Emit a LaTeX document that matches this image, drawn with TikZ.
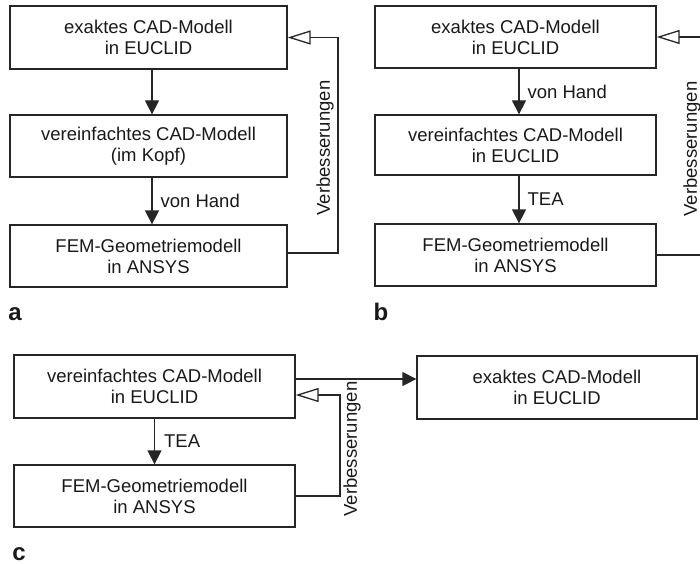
\documentclass[tikz,border=0pt]{standalone}
\usepackage{fontspec}
\setmainfont{Liberation Sans}
\usetikzlibrary{arrows.meta,calc}
\begin{document}
\begin{tikzpicture}[x=1pt,y=-1pt,
  ink/.style={black!85},
  box/.style={draw=black!85, line width=1.3pt, align=center, inner sep=0pt,
    font=\fontsize{18.5}{21}\selectfont, text=black!90},
  flow/.style={ink, line width=1.3pt, -{Triangle[length=14pt,width=14pt]}},
  back/.style={ink, line width=1.3pt, -{Triangle[open,length=23pt,width=14pt,fill=white]}},
  lbl/.style={font=\fontsize{18.5}{21}\selectfont, text=black!90, inner sep=0pt},
  panel/.style={font=\fontsize{24}{24}\bfseries\selectfont, text=black!90, inner sep=0pt, anchor=base}
]
\useasboundingbox (0,0) rectangle (700,564);
\clip (0,0) rectangle (700,564);

% ---------- panel a ----------
\node[box, minimum width=277pt, minimum height=63pt] (a1) at (148.5,37.5) {exaktes CAD-Modell\\in EUCLID};
\node[box, minimum width=277pt, minimum height=62pt] (a2) at (148.5,146) {vereinfachtes CAD-Modell\\(im Kopf)};
\node[box, minimum width=277pt, minimum height=62pt] (a3) at (148.5,256) {FEM-Geometriemodell\\in ANSYS};
\draw[flow] ([xshift=3.5pt]a1.south) -- ([xshift=3.5pt]a2.north);
\draw[flow] ([xshift=3.5pt]a2.south) -- node[lbl, anchor=west, xshift=8pt] (lah) {von Hand} ([xshift=3.5pt]a3.north);
\coordinate (ac) at (338,0);
\draw[back] ([yshift=3pt]a3.east) -- ([yshift=3pt]a3.east -| ac) -- (a1.east -| ac) -- (a1.east);
\node[lbl, rotate=90] (lav) at (325,148) {Verbesserungen};
\node[panel] (pa) at (15,320) {a};

% ---------- panel b ----------
\node[box, minimum width=281pt, minimum height=62pt] (b1) at (515.5,37) {exaktes CAD-Modell\\in EUCLID};
\node[box, minimum width=281pt, minimum height=60pt] (b2) at (515.5,145) {vereinfachtes CAD-Modell\\in EUCLID};
\node[box, minimum width=281pt, minimum height=62pt] (b3) at (515.5,255) {FEM-Geometriemodell\\in ANSYS};
\draw[flow] ([xshift=3.5pt]b1.south) -- node[lbl, anchor=west, xshift=8pt] (bvh) {von Hand} ([xshift=3.5pt]b2.north);
\draw[flow] ([xshift=3.5pt]b2.south) -- node[lbl, anchor=west, xshift=8pt] (btea) {TEA} ([xshift=3.5pt]b3.north);
\coordinate (bc) at (704,0);
\draw[back] (b3.east) -- (b3.east -| bc) -- (b1.east -| bc) -- (b1.east);
\node[lbl, rotate=90] (bv) at (692,149) {Verbesserungen};
\node[panel] (pb) at (381,320) {b};

% ---------- panel c ----------
\node[box, minimum width=281pt, minimum height=63pt] (c1) at (154.5,386.5) {vereinfachtes CAD-Modell\\in EUCLID};
\node[box, minimum width=281pt, minimum height=62pt] (c2) at (154.5,496) {FEM-Geometriemodell\\in ANSYS};
\node[box, minimum width=280pt, minimum height=63pt] (c3) at (557,387.5) {exaktes CAD-Modell\\in EUCLID};
\draw[flow] (c1.south) -- node[lbl, anchor=west, xshift=9pt] (ctea) {TEA} (c2.north);
\coordinate (c1e) at ([yshift=7.5pt]c1.east);
\draw[flow] (c1e) -- (c1e -| c3.west);
\coordinate (cc) at (340,0);
\coordinate (c1f) at ([yshift=-8.5pt]c1.east);
\draw[back] (c2.east) -- (c2.east -| cc) -- (c1f -| cc) -- (c1f);
\node[lbl, rotate=90] (cv) at (352,449) {Verbesserungen};
\node[panel] (pc) at (19,560) {c};
\end{tikzpicture}
\end{document}
